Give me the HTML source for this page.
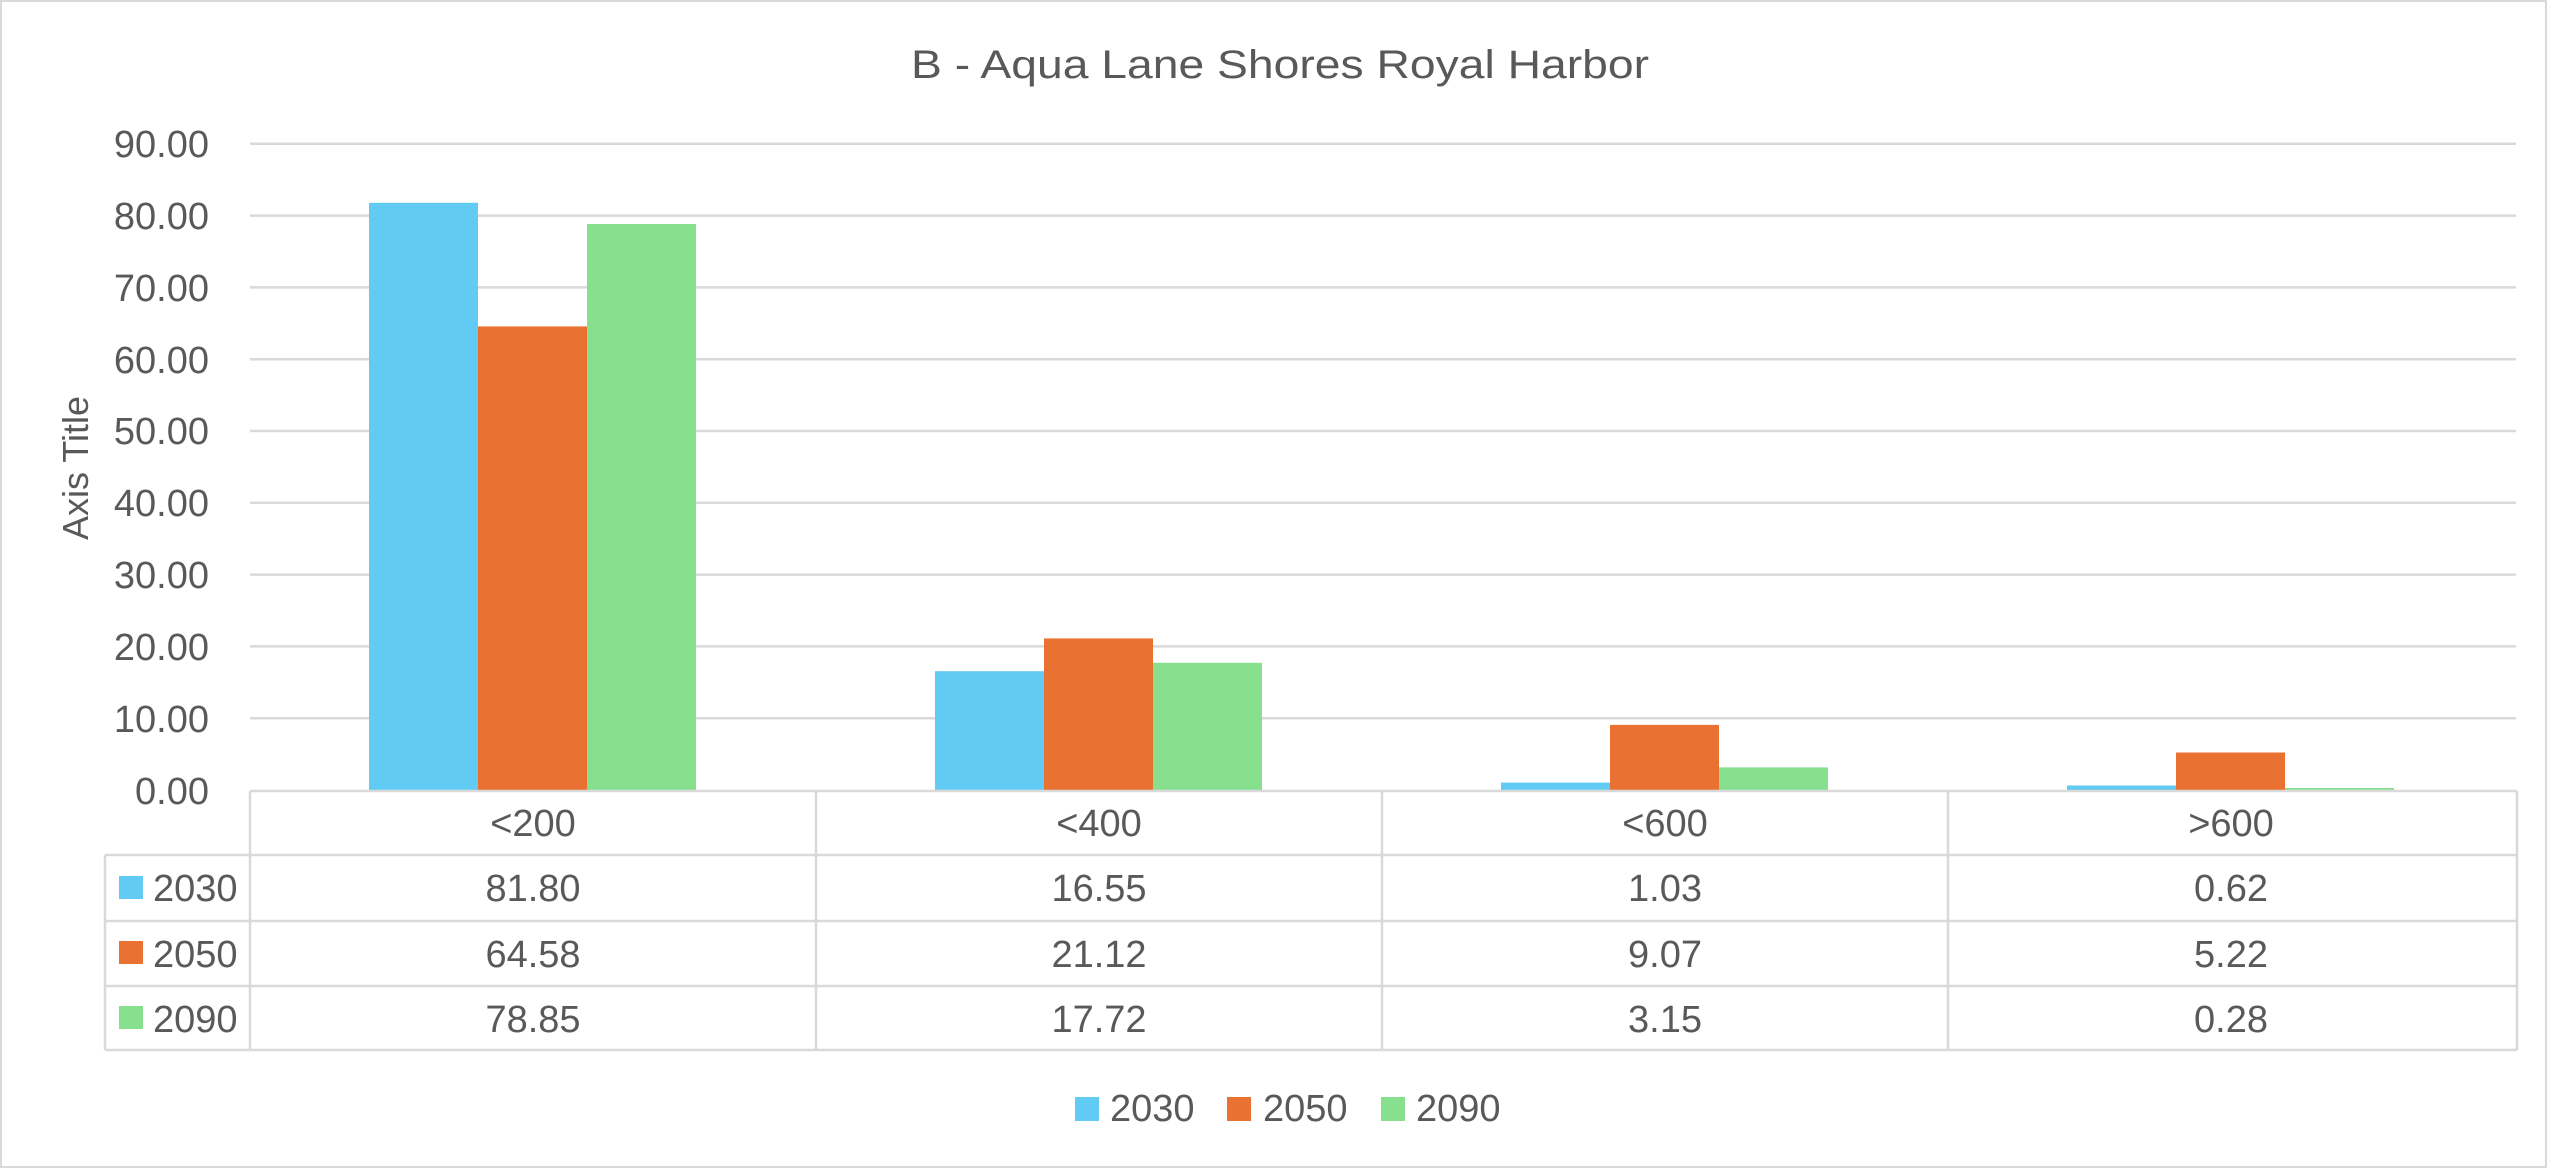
<!DOCTYPE html>
<html><head><meta charset="utf-8"><style>html,body{margin:0;padding:0;background:#fff}svg{display:block}</style></head>
<body>
<svg width="2560" height="1169" viewBox="0 0 2560 1169" xmlns="http://www.w3.org/2000/svg" font-family="'Liberation Sans', sans-serif" fill="#595959">
<rect x="1" y="1" width="2545" height="1166" fill="#fff" stroke="#d9d9d9" stroke-width="2"/>
<text x="1280" y="78" font-size="40" text-anchor="middle" textLength="738" lengthAdjust="spacingAndGlyphs">B - Aqua Lane Shores Royal Harbor</text>
<g stroke="#d9d9d9" stroke-width="2.5">
<line x1="250" x2="2516" y1="143.8" y2="143.8"/>
<line x1="250" x2="2516" y1="215.6" y2="215.6"/>
<line x1="250" x2="2516" y1="287.4" y2="287.4"/>
<line x1="250" x2="2516" y1="359.2" y2="359.2"/>
<line x1="250" x2="2516" y1="431" y2="431"/>
<line x1="250" x2="2516" y1="502.8" y2="502.8"/>
<line x1="250" x2="2516" y1="574.6" y2="574.6"/>
<line x1="250" x2="2516" y1="646.4" y2="646.4"/>
<line x1="250" x2="2516" y1="718.2" y2="718.2"/>
</g>
<g font-size="38" text-anchor="end">
<text x="209" y="157">90.00</text>
<text x="209" y="229">80.00</text>
<text x="209" y="301">70.00</text>
<text x="209" y="373">60.00</text>
<text x="209" y="444">50.00</text>
<text x="209" y="516">40.00</text>
<text x="209" y="588">30.00</text>
<text x="209" y="660">20.00</text>
<text x="209" y="732">10.00</text>
<text x="209" y="804">0.00</text>
</g>
<text transform="translate(88,468) rotate(-90)" font-size="36" text-anchor="middle">Axis Title</text>
<g>
<rect x="369" y="202.8" width="109" height="587.2" fill="#61cbf3"/>
<rect x="478" y="326.4" width="109" height="463.6" fill="#e97132"/>
<rect x="587" y="224" width="109" height="566" fill="#86e08e"/>
<rect x="935" y="671.2" width="109" height="118.8" fill="#61cbf3"/>
<rect x="1044" y="638.4" width="109" height="151.6" fill="#e97132"/>
<rect x="1153" y="662.8" width="109" height="127.2" fill="#86e08e"/>
<rect x="1501" y="782.6" width="109" height="7.4" fill="#61cbf3"/>
<rect x="1610" y="724.9" width="109" height="65.1" fill="#e97132"/>
<rect x="1719" y="767.4" width="109" height="22.6" fill="#86e08e"/>
<rect x="2067" y="785.5" width="109" height="4.5" fill="#61cbf3"/>
<rect x="2176" y="752.5" width="109" height="37.5" fill="#e97132"/>
<rect x="2285" y="788" width="109" height="2" fill="#86e08e"/>
</g>
<g stroke="#d9d9d9" stroke-width="2.5" fill="none">
<line x1="250" x2="2517" y1="791" y2="791"/>
<line x1="105" x2="2517" y1="855" y2="855"/>
<line x1="105" x2="2517" y1="921" y2="921"/>
<line x1="105" x2="2517" y1="986" y2="986"/>
<line x1="105" x2="2517" y1="1050" y2="1050"/>
<line x1="105" x2="105" y1="855" y2="1050"/>
<line x1="250" x2="250" y1="791" y2="1050"/>
<line x1="816" x2="816" y1="791" y2="1050"/>
<line x1="1382" x2="1382" y1="791" y2="1050"/>
<line x1="1948" x2="1948" y1="791" y2="1050"/>
<line x1="2517" x2="2517" y1="791" y2="1050"/>
</g>
<g font-size="38" text-anchor="middle">
<text x="533" y="836">&lt;200</text>
<text x="1099" y="836">&lt;400</text>
<text x="1665" y="836">&lt;600</text>
<text x="2231" y="836">&gt;600</text>
<text x="533" y="901">81.80</text>
<text x="1099" y="901">16.55</text>
<text x="1665" y="901">1.03</text>
<text x="2231" y="901">0.62</text>
<text x="533" y="967">64.58</text>
<text x="1099" y="967">21.12</text>
<text x="1665" y="967">9.07</text>
<text x="2231" y="967">5.22</text>
<text x="533" y="1032">78.85</text>
<text x="1099" y="1032">17.72</text>
<text x="1665" y="1032">3.15</text>
<text x="2231" y="1032">0.28</text>
</g>
<rect x="119" y="876" width="24" height="23" fill="#61cbf3"/>
<rect x="119" y="941" width="24" height="23" fill="#e97132"/>
<rect x="119" y="1006" width="24" height="23" fill="#86e08e"/>
<g font-size="38">
<text x="153" y="901">2030</text>
<text x="153" y="967">2050</text>
<text x="153" y="1032">2090</text>
</g>
<rect x="1075" y="1097" width="24" height="24" fill="#61cbf3"/>
<rect x="1227" y="1097" width="24" height="24" fill="#e97132"/>
<rect x="1381" y="1097" width="24" height="24" fill="#86e08e"/>
<g font-size="38">
<text x="1110" y="1121">2030</text>
<text x="1263" y="1121">2050</text>
<text x="1416" y="1121">2090</text>
</g>
</svg>
</body></html>
